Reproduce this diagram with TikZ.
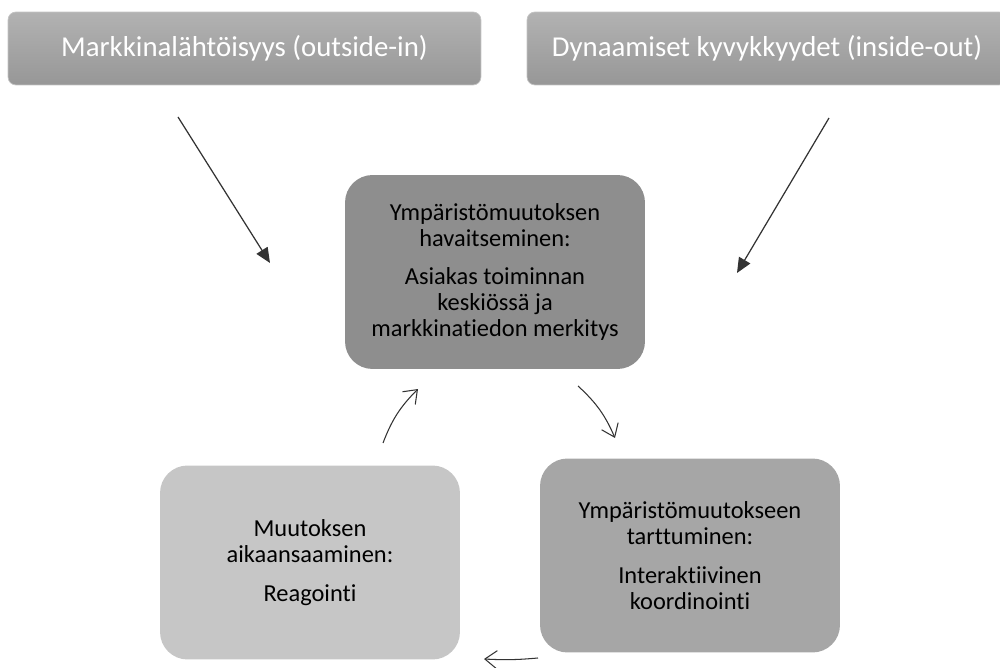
\documentclass[tikz,border=0pt]{standalone}
\usepackage{fontspec}
\setmainfont{Carlito}[Ligatures=NoCommon]
\usetikzlibrary{arrows.meta,positioning}
\definecolor{hdtop}{HTML}{B2B2B2}
\definecolor{hdbot}{HTML}{979797}
\definecolor{hdline}{HTML}{C4C4C4}
\definecolor{senseg}{HTML}{8E8E8E}
\definecolor{seizeg}{HTML}{A6A6A6}
\definecolor{reactg}{HTML}{C6C6C6}
\definecolor{ink}{HTML}{333333}
\tikzset{
  headbox/.style={rectangle, rounded corners=4.5pt, draw=hdline, line width=0.4pt,
                  top color=hdtop, bottom color=hdbot, text=white, align=center,
                  minimum height=1.46cm, font=\fontsize{16.4}{19}\selectfont},
  cyclebox/.style={rectangle, rounded corners=0.55cm, draw=none, align=center,
                   minimum width=6cm, minimum height=3.88cm, text=black,
                   font=\fontsize{13.9}{14.8}\selectfont},
  inflow/.style={-{Triangle[length=0.3cm, width=0.26cm]}, draw=ink, line width=0.7pt},
  loop/.style={-{Straight Barb[length=0.24cm, width=0.36cm]}, draw=ink, line width=0.6pt},
}

\begin{document}
\begin{tikzpicture}[x=0.02cm, y=-0.02cm]
\useasboundingbox (0,0) rectangle (1000,668);
\clip (0,0) rectangle (1000,668);

% the two starting points
\node[headbox, minimum width=9.46cm] (market) at (244.5,48.5) {Markkinalähtöisyys (outside-in)};
\node[headbox, minimum width=9.6cm]  (dynamic) at (767,48.5) {Dynaamiset kyvykkyydet (inside-out)};

% the cycle
\node[cyclebox, fill=senseg] (sense) at (495,272)
  {Ympäristömuutoksen\\havaitseminen:\\[7pt]Asiakas toiminnan\\keskiössä ja\\markkinatiedon merkitys};
\node[cyclebox, fill=seizeg] (seize) at (690,555.5)
  {Ympäristömuutokseen\\tarttuminen:\\[7pt]Interaktiivinen\\koordinointi};
\node[cyclebox, fill=reactg] (react) at (310,562.5)
  {Muutoksen\\aikaansaaminen:\\[7pt]Reagointi};

% free ends of the connectors
\coordinate (mkt-from) at (178,117);  \coordinate (mkt-to) at (270,263);
\coordinate (dyn-from) at (829,118);  \coordinate (dyn-to) at (737,273);
\coordinate (up-from) at (383,443);   \coordinate (up-to) at (418,389);
\coordinate (dn-from) at (578,386);   \coordinate (dn-to) at (615,438);
\coordinate (lf-from) at (538,658);   \coordinate (lf-to) at (484,659);

\draw[inflow] (mkt-from) -- (mkt-to);
\draw[inflow] (dyn-from) -- (dyn-to);

\draw[loop] (up-from) to[bend left=12] (up-to);
\draw[loop] (dn-from) to[bend left=12] (dn-to);
\draw[loop] (lf-from) to[bend left=4] (lf-to);
\end{tikzpicture}
\end{document}
